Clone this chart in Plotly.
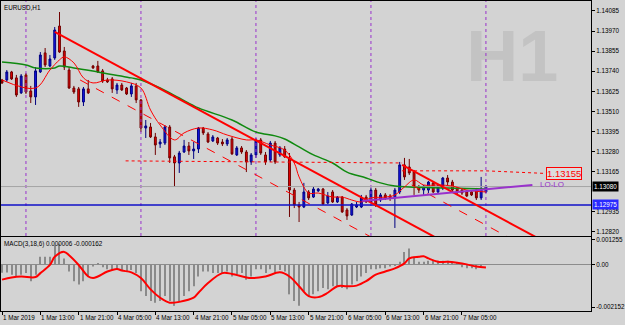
import plotly.graph_objects as go

# ---------------- data ----------------
bar_index = list(range(102))
opens = [1.13690,1.13690,1.13736,1.13702,1.13616,1.13719,1.13627,1.13593,1.13736,1.13845,
         1.13770,1.13816,1.13999,1.13856,1.13747,1.13644,1.13639,1.13564,1.13639,1.13770,
         1.13770,1.13742,1.13690,1.13696,1.13633,1.13661,1.13644,1.13610,1.13656,1.13576,
         1.13415,1.13421,1.13364,1.13324,1.13329,1.13421,1.13250,1.13215,1.13278,1.13312,
         1.13284,1.13295,1.13415,1.13381,1.13341,1.13358,1.13335,1.13324,1.13352,1.13261,
         1.13301,1.13278,1.13221,1.13261,1.13347,1.13261,1.13232,1.13329,1.13261,1.13295,
         1.13244,1.13060,1.12975,1.12963,1.13049,1.13020,1.13055,1.13066,1.12986,1.13049,
         1.12992,1.13020,1.12946,1.12917,1.12963,1.12963,1.13020,1.12992,1.13060,1.13003,
         1.13032,1.13026,1.13015,1.13049,1.13204,1.13192,1.13163,1.13078,1.13060,1.13060,
         1.13101,1.13049,1.13072,1.13129,1.13106,1.13072,1.13060,1.13049,1.13049,1.13060,
         1.13015,1.13049]
highs = [1.13696,1.13747,1.13742,1.13719,1.13724,1.13730,1.13656,1.13764,1.13850,1.13873,
         1.13833,1.13993,1.14079,1.13879,1.13764,1.13656,1.13650,1.13650,1.13690,1.13776,
         1.13799,1.13753,1.13702,1.13707,1.13673,1.13673,1.13650,1.13673,1.13673,1.13581,
         1.13461,1.13444,1.13387,1.13352,1.13432,1.13432,1.13261,1.13284,1.13347,1.13335,
         1.13335,1.13421,1.13421,1.13392,1.13375,1.13364,1.13352,1.13358,1.13364,1.13312,
         1.13312,1.13289,1.13272,1.13358,1.13358,1.13278,1.13341,1.13341,1.13312,1.13312,
         1.13272,1.13072,1.12992,1.13101,1.13060,1.13078,1.13072,1.13072,1.13049,1.13060,
         1.13026,1.13026,1.12957,1.12986,1.12992,1.13032,1.13032,1.13072,1.13072,1.13043,
         1.13043,1.13037,1.13072,1.13221,1.13244,1.13238,1.13175,1.13089,1.13089,1.13112,
         1.13106,1.13095,1.13135,1.13146,1.13118,1.13083,1.13072,1.13060,1.13060,1.13072,
         1.13135,1.13089]
lows = [1.13667,1.13679,1.13690,1.13593,1.13610,1.13610,1.13558,1.13547,1.13730,1.13764,
        1.13764,1.13805,1.13845,1.13747,1.13639,1.13610,1.13536,1.13541,1.13610,1.13753,
        1.13730,1.13673,1.13673,1.13616,1.13610,1.13627,1.13604,1.13593,1.13558,1.13392,
        1.13358,1.13358,1.13261,1.13301,1.13318,1.13215,1.13078,1.13158,1.13272,1.13261,
        1.13238,1.13272,1.13375,1.13329,1.13335,1.13318,1.13312,1.13312,1.13261,1.13255,
        1.13267,1.13163,1.13204,1.13244,1.13261,1.13204,1.13221,1.13209,1.13250,1.13244,
        1.12906,1.12957,1.12877,1.12957,1.13003,1.13015,1.13049,1.12975,1.12980,1.12986,
        1.12986,1.12929,1.12889,1.12912,1.12957,1.12957,1.12986,1.12986,1.12963,1.12992,
        1.13003,1.12998,1.12843,1.13037,1.13118,1.13146,1.13032,1.13043,1.13032,1.13043,
        1.13043,1.13043,1.13060,1.13089,1.13049,1.13037,1.13032,1.13020,1.13026,1.13003,
        1.13003,1.13043]
closes = [1.13673,1.13736,1.13696,1.13604,1.13713,1.13621,1.13593,1.13742,1.13833,1.13776,
          1.13810,1.13976,1.13850,1.13764,1.13644,1.13621,1.13564,1.13639,1.13616,1.13759,
          1.13736,1.13684,1.13679,1.13639,1.13661,1.13633,1.13610,1.13656,1.13576,1.13415,
          1.13427,1.13364,1.13318,1.13335,1.13421,1.13244,1.13215,1.13272,1.13312,1.13284,
          1.13295,1.13415,1.13387,1.13335,1.13364,1.13329,1.13324,1.13347,1.13267,1.13301,
          1.13278,1.13221,1.13261,1.13347,1.13272,1.13221,1.13329,1.13221,1.13301,1.13250,
          1.13060,1.12975,1.12963,1.13049,1.13015,1.13066,1.13066,1.12980,1.13026,1.12992,
          1.13020,1.12935,1.12912,1.12980,1.12975,1.13015,1.12992,1.13060,1.12975,1.13032,
          1.13015,1.13015,1.13060,1.13204,1.13135,1.13158,1.13078,1.13060,1.13083,1.13106,
          1.13049,1.13083,1.13129,1.13106,1.13060,1.13049,1.13043,1.13026,1.13032,1.13015,
          1.13066,1.13080]

ma_slow_idx = [0,5,7,11,12,15,20,27,29,33,37,41,48,53,57,59,62,65,69,72,76,79,82,85,93,101]
ma_slow_val = [1.13793,1.13776,1.13759,1.13759,1.13770,1.13759,1.13736,1.13702,1.13690,1.13644,
               1.13587,1.13530,1.13461,1.13392,1.13370,1.13352,1.13307,1.13261,1.13215,1.13163,
               1.13129,1.13101,1.13083,1.13078,1.13072,1.13066]

ma_fast_idx = [0,7,10,12,13,15,17,19,22,26,29,31,33,36,38,41,44,47,51,53,56,59,61,62,64,66,
               69,71,73,75,77,80,82,84,86,88,91,94,97,101]
ma_fast_val = [1.13690,1.13644,1.13747,1.13805,1.13822,1.13788,1.13702,1.13673,1.13690,1.13679,
               1.13644,1.13518,1.13432,1.13347,1.13387,1.13415,1.13404,1.13375,1.13347,1.13347,
               1.13318,1.13289,1.13215,1.13135,1.13043,1.13043,1.13020,1.13020,1.13003,1.12992,
               1.13015,1.13020,1.13032,1.13078,1.13118,1.13089,1.13089,1.13083,1.13060,1.13049]

macd_hist = [-0.00042,-0.00041,-0.00052,-0.00061,-0.00052,-0.00044,-0.00085,-0.00052,0.00038,0.00038,
             0.00038,0.00096,0.00104,0.00030,-0.00036,-0.00085,-0.00102,-0.00085,-0.00061,-0.00011,
             0.00005,-0.00015,-0.00025,-0.00028,-0.00025,-0.00028,-0.00036,-0.00028,-0.00044,-0.00135,
             -0.00160,-0.00184,-0.00193,-0.00184,-0.00160,-0.00184,-0.00209,-0.00184,-0.00160,-0.00135,
             -0.00110,-0.00061,-0.00036,-0.00036,-0.00044,-0.00044,-0.00044,-0.00036,-0.00061,-0.00052,
             -0.00044,-0.00077,-0.00061,-0.00025,-0.00025,-0.00044,-0.00025,-0.00044,-0.00028,-0.00036,
             -0.00151,-0.00184,-0.00209,-0.00135,-0.00160,-0.00151,-0.00135,-0.00119,-0.00126,-0.00110,
             -0.00110,-0.00119,-0.00126,-0.00102,-0.00085,-0.00061,-0.00044,-0.00025,-0.00025,-0.00020,
             -0.00020,-0.00011,-0.00008,0.00013,0.00063,0.00080,0.00038,0.00013,0.00013,0.00018,
             0.00018,0.00018,0.00018,0.00018,0.00013,0.00008,-0.00015,-0.00020,-0.00020,-0.00025,
             -0.00008,0.000006]

signal_idx = [0,2,4,7,8,10,11,13,14,16,18,19,20,22,24,25,27,29,31,33,35,37,40,41,43,46,48,52,55,58,
              60,62,64,66,68,70,72,74,76,78,80,82,84,85,87,88,89,91,93,95,97,99,101]
signal_val = [-0.00077,-0.00066,-0.00061,-0.00064,-0.00044,-0.00003,0.00038,0.00063,0.00046,-0.00003,
              -0.00061,-0.00069,-0.00061,-0.00036,-0.00023,-0.00031,-0.00040,-0.00069,-0.00126,-0.00168,
              -0.00193,-0.00189,-0.00168,-0.00143,-0.00094,-0.00044,-0.00048,-0.00069,-0.00061,-0.00040,
              -0.00061,-0.00110,-0.00160,-0.00165,-0.00143,-0.00110,-0.00110,-0.00107,-0.00085,-0.00052,
              -0.00036,-0.00020,0.00005,0.00030,0.00038,0.00041,0.00030,0.00013,0.00013,0.00008,
              0.00000,-0.00011,-0.000162]

time_tick_idx = [0,8,16,24,32,40,48,56,64,72,80,88,96]
time_tick_text = ["1 Mar 2019","1 Mar 13:00","1 Mar 21:00","4 Mar 05:00","4 Mar 13:00","4 Mar 21:00",
                  "5 Mar 05:00","5 Mar 13:00","5 Mar 21:00","6 Mar 05:00","6 Mar 13:00","6 Mar 21:00",
                  "7 Mar 05:00"]

price_ticks = [1.14085,1.13970,1.13855,1.13740,1.13625,1.13510,1.13395,1.13280,1.13165,1.12935,1.12820]
macd_ticks = [0.001255,0.0,-0.002152]
macd_tick_text = ["0.001255","0.00","-0.002152"]

separator_idx = [5,29,53,77,101]

trend_main_x = [11,100];      trend_main_y = [1.13965,1.12648]
trend_upper_x = [83.5,120];   trend_upper_y = [1.13204,1.12664]
dash1_x = [16.3,100];         dash1_y = [1.13690,1.12451]
dash2_x = [85.5,120];         dash2_y = [1.13089,1.12578]
dotA_x = [25.8,83.5];         dotA_y = [1.13227,1.13215]
dotB_x = [83.5,101,113.6];    dotB_y = [1.13170,1.13170,1.13155]
lolo_x = [75.2,110.7];        lolo_y = [1.12998,1.13089]

bid_price = 1.13080
level_price = 1.12975
level_label = 1.13155

X_RANGE = [-0.21, 122.93]
Y_RANGE = [1.12797, 1.14142]
M_RANGE = [-0.00235, 0.00138]

RED = '#ff0000'
PURPLE = '#9932cc'
FONT = 'Liberation Sans, Arial, sans-serif'

fig = go.Figure()

# watermark
fig.add_trace(go.Scatter(x=[106.5], y=[1.13789], mode='text', text=['<b>H1</b>'],
                         textfont=dict(size=72, color='#c3c3c3', family=FONT),
                         hoverinfo='skip', showlegend=False))

# separators
sx, sy = [], []
for s in separator_idx:
    sx += [s, s, None]
    sy += [Y_RANGE[0], Y_RANGE[1], None]
fig.add_trace(go.Scatter(x=sx, y=sy, mode='lines', line=dict(color=PURPLE, width=1, dash='dot'),
                         hoverinfo='skip', showlegend=False))

# horizontal lines
fig.add_trace(go.Scatter(x=[X_RANGE[0], X_RANGE[1]], y=[bid_price, bid_price], mode='lines',
                         line=dict(color='#a4a4a4', width=1), hoverinfo='skip', showlegend=False))
fig.add_trace(go.Scatter(x=[X_RANGE[0], X_RANGE[1]], y=[level_price, level_price], mode='lines',
                         line=dict(color='#1010c8', width=1.5), hoverinfo='skip', showlegend=False))

# moving averages
fig.add_trace(go.Scatter(x=ma_slow_idx, y=ma_slow_val, mode='lines', line=dict(color='#108a10', width=1.5, shape='spline'),
                         hoverinfo='skip', showlegend=False))
fig.add_trace(go.Scatter(x=ma_fast_idx, y=ma_fast_val, mode='lines', line=dict(color=RED, width=1, shape='spline'),
                         hoverinfo='skip', showlegend=False))

# dashed / dotted objects
for dx, dy in ((dash1_x, dash1_y), (dash2_x, dash2_y)):
    fig.add_trace(go.Scatter(x=dx, y=dy, mode='lines', line=dict(color=RED, width=1, dash='dash'),
                             hoverinfo='skip', showlegend=False))
fig.add_trace(go.Scatter(x=dotA_x, y=dotA_y, mode='lines', line=dict(color=RED, width=1, dash='dot'),
                         hoverinfo='skip', showlegend=False))
fig.add_trace(go.Scatter(x=dotB_x, y=dotB_y, mode='lines', line=dict(color=RED, width=1, dash='dot'),
                         hoverinfo='skip', showlegend=False))

# candles
fig.add_trace(go.Candlestick(x=bar_index, open=opens, high=highs, low=lows, close=closes,
                             increasing=dict(line=dict(color='#000080', width=1), fillcolor='#1515e6'),
                             decreasing=dict(line=dict(color='#700000', width=1), fillcolor='#ee0000'),
                             hoverinfo='skip', showlegend=False))

# trend lines
fig.add_trace(go.Scatter(x=trend_main_x, y=trend_main_y, mode='lines', line=dict(color=RED, width=2),
                         hoverinfo='skip', showlegend=False))
fig.add_trace(go.Scatter(x=trend_upper_x, y=trend_upper_y, mode='lines', line=dict(color=RED, width=2),
                         hoverinfo='skip', showlegend=False))
fig.add_trace(go.Scatter(x=lolo_x, y=lolo_y, mode='lines', line=dict(color=PURPLE, width=2),
                         hoverinfo='skip', showlegend=False))

# MACD
fig.add_trace(go.Bar(x=bar_index, y=macd_hist, width=0.22, marker=dict(color='#8a8a8a', line=dict(width=0)),
                     xaxis='x2', yaxis='y2', hoverinfo='skip', showlegend=False))
fig.add_trace(go.Scatter(x=signal_idx, y=signal_val, mode='lines', line=dict(color=RED, width=2, shape='spline'),
                         xaxis='x2', yaxis='y2', hoverinfo='skip', showlegend=False))

ann = []
for i, t in zip(time_tick_idx, time_tick_text):
    ann.append(dict(x=i, xref='x2', y=0, yref='paper', yanchor='top', xanchor='left', yshift=-1, xshift=-1,
                    text=t, showarrow=False, font=dict(size=6.3, family=FONT, color='black')))
ann.append(dict(x=0, xref='paper', y=1, yref='paper', xanchor='left', yanchor='top', xshift=1, yshift=-1,
                text='EURUSD,H1', showarrow=False, font=dict(size=6.3, family=FONT, color='black')))
ann.append(dict(x=0, xref='paper', y=0.2387, yref='paper', xanchor='left', yanchor='top', xshift=1, yshift=-1,
                text='MACD(3,18,6) 0.000006 -0.000162', showarrow=False, font=dict(size=6.3, family=FONT, color='black')))
ann.append(dict(x=1, xref='paper', y=bid_price, yref='y', xanchor='left', yanchor='middle', xshift=1,
                text=f'{bid_price:.5f}', showarrow=False, bgcolor='black', borderpad=1,
                font=dict(size=6.3, family=FONT, color='white')))
ann.append(dict(x=1, xref='paper', y=level_price, yref='y', xanchor='left', yanchor='middle', xshift=1,
                text=f'{level_price:.5f}', showarrow=False, bgcolor='#2a2aff', borderpad=1,
                font=dict(size=6.3, family=FONT, color='white')))
ann.append(dict(x=dotB_x[-1], xref='x', y=level_label, yref='y', xanchor='left', yanchor='middle',
                text=f'{level_label:.5f}', showarrow=False, bgcolor='#dcdcdc', bordercolor=RED, borderwidth=1,
                borderpad=0, font=dict(size=9.5, family=FONT, color=RED)))
ann.append(dict(x=lolo_x[-1] + 1.2, xref='x', y=lolo_y[-1], yref='y', xanchor='left', yanchor='middle',
                text='LO-LO', showarrow=False, font=dict(size=8, family=FONT, color=PURPLE)))

axis_common = dict(showgrid=False, zeroline=False, showline=True, mirror=True, linecolor='black', linewidth=1,
                   fixedrange=True)

fig.update_layout(
    width=625, height=325, margin=dict(l=0, r=29, t=1, b=14),
    paper_bgcolor='#d3d3d3', plot_bgcolor='#d3d3d3', showlegend=False, boxgap=0.45,
    xaxis=dict(domain=[0, 1], range=X_RANGE, anchor='y', showticklabels=False, ticks='',
               rangeslider=dict(visible=False), **axis_common),
    yaxis=dict(domain=[0.2419, 1], range=Y_RANGE, anchor='x', side='right', tickvals=price_ticks,
               ticktext=[f'{v:.5f}' for v in price_ticks], ticks='outside', ticklen=3, tickcolor='black',
               tickfont=dict(size=6.3, family=FONT, color='black'), **axis_common),
    xaxis2=dict(domain=[0, 1], range=X_RANGE, anchor='y2', tickvals=time_tick_idx, ticks='outside', ticklen=3,
                tickcolor='black', showticklabels=False, **axis_common),
    yaxis2=dict(domain=[0, 0.2387], range=M_RANGE, anchor='x2', side='right', tickvals=macd_ticks,
                ticktext=macd_tick_text, ticks='outside', ticklen=3, tickcolor='black',
                tickfont=dict(size=6.3, family=FONT, color='black'),
                showgrid=False, showline=True, mirror=True, linecolor='black', linewidth=1, fixedrange=True,
                zeroline=True, zerolinecolor='#8c8c8c', zerolinewidth=1),
    annotations=ann,
)

fig.write_html("out.html")
